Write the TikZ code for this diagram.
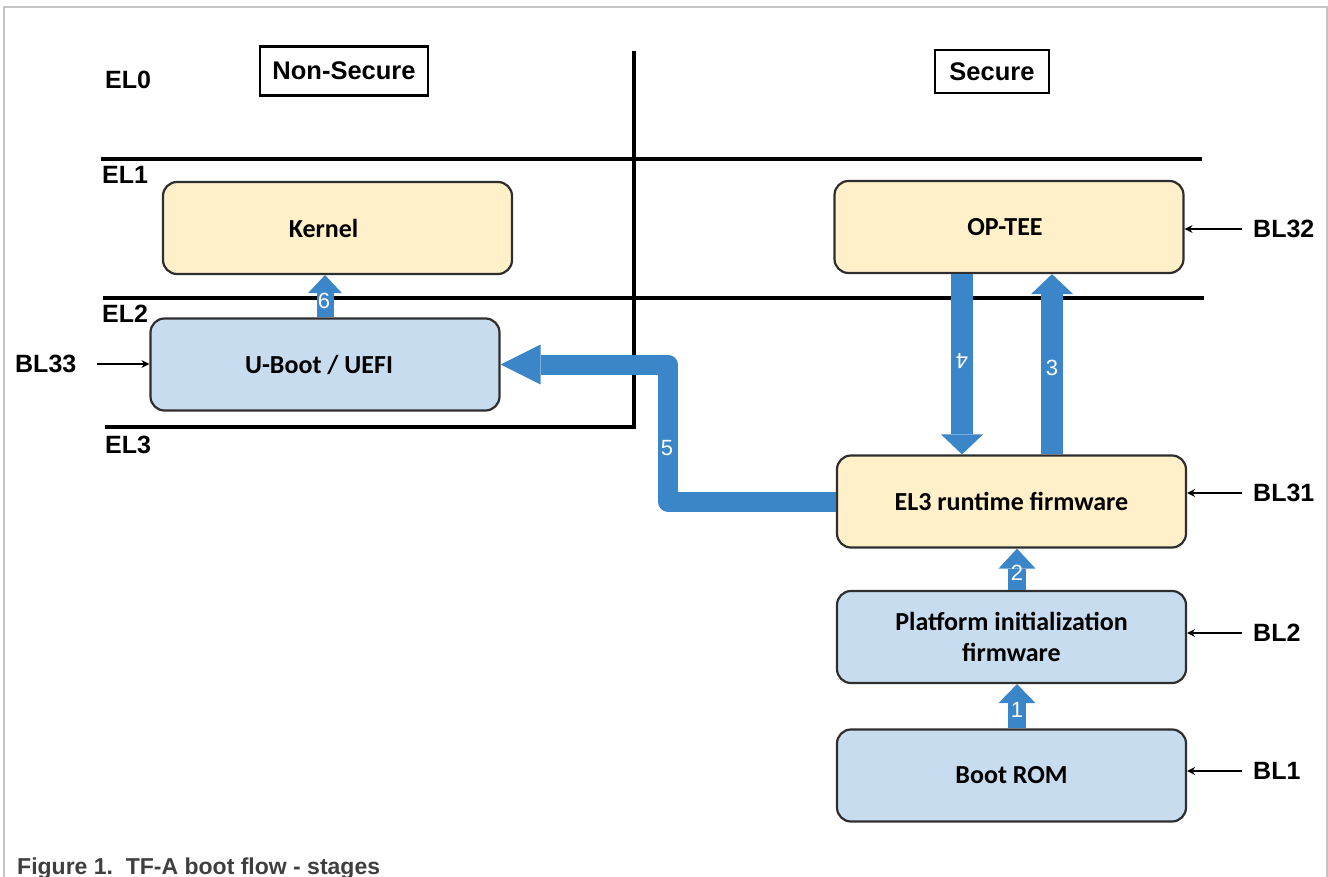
\documentclass[tikz,border=0pt]{standalone}
\usepackage{fontspec}
\setmainfont{Liberation Sans}
\newfontfamily\calibri{Carlito}
\usetikzlibrary{arrows.meta}
\definecolor{framegray}{HTML}{C4C4C4}
\definecolor{boxyellow}{HTML}{FFF0C9}
\definecolor{boxblue}{HTML}{C7DCEF}
\definecolor{boxborder}{HTML}{2E2E2E}
\definecolor{arrowblue}{HTML}{3A86C8}
\definecolor{captiongray}{HTML}{3F3F3F}
\tikzset{
  elline/.style={line width=3.2pt, black},
  fbox/.style={draw=boxborder, line width=2.2pt, rounded corners=14pt, minimum width=349pt, minimum height=92pt, inner sep=0pt, align=center, font=\calibri\bfseries\fontsize{26}{31}\selectfont},
  ybox/.style={fbox, fill=boxyellow},
  bbox/.style={fbox, fill=boxblue},
  lbl/.style={inner sep=0pt, anchor=west, font=\bfseries\fontsize{25}{30}\selectfont},
  worldbox/.style={draw=black, line width=2.7pt, inner sep=0pt, font=\bfseries\fontsize{25.5}{30}\selectfont},
  smallarrow/.style={draw=black, line width=2pt, -{Stealth[length=8pt,width=8pt,line width=0pt]}},
  bigarrow/.style={draw=arrowblue, line width=22pt, line join=round},
  num/.style={text=white, inner sep=0pt, font=\fontsize{22}{26}\selectfont}
}
\begin{document}
\begin{tikzpicture}[x=1pt,y=-1pt]
\useasboundingbox (0,0) rectangle (1328,877);
% outer frame
\draw[framegray, line width=1.3pt] (4,877) -- (4,7) -- (1327,7) -- (1327,877);
% exception level lines
\draw[elline] (101,159) -- (1202,159);
\draw[elline] (103,298) -- (1204,298);
\draw[elline] (105,427) -- (634,427) -- (634,51);
% level labels
\node[lbl] (el0) at (105,80) {EL0};
\node[lbl] (el1) at (102,175) {EL1};
\node[lbl] (el2) at (102,314) {EL2};
\node[lbl] (el3l) at (105,445) {EL3};
% world labels
\node[worldbox, minimum width=168pt, minimum height=49pt] (ns) at (344,71) {Non-Secure};
\node[worldbox, minimum width=114pt, minimum height=43pt] (sec) at (992,71.5) {Secure};
% boxes
\node[ybox] (kernel) at (337.5,228) {Kernel\hspace*{28pt}};
\node[bbox] (uboot) at (325,364.5) {U-Boot / UEFI\hspace*{12pt}};
\node[ybox] (optee) at (1009,227) {OP-TEE\hspace*{8pt}};
\node[ybox] (el3) at (1011.5,501.5) {EL3 runtime firmware};
\node[bbox] (plat) at (1011.5,637) {Platform initialization\\firmware};
\node[bbox] (rom) at (1011.5,775.5) {Boot ROM};
% BL labels
\node[lbl] (bl33) at (15,364) {BL33};
\node[lbl] (bl32) at (1253,229) {BL32};
\node[lbl] (bl31) at (1253,493) {BL31};
\node[lbl] (bl2) at (1253,633) {BL2};
\node[lbl] (bl1) at (1253,771) {BL1};
% small arrows
\draw[smallarrow] ([xshift=20pt]bl33.east) -- (bl33.east -| uboot.west);
\draw[smallarrow] ([xshift=-11pt]bl32.west) -- (bl32.west -| optee.east);
\draw[smallarrow] ([xshift=-11pt]bl31.west) -- (bl31.west -| el3.east);
\draw[smallarrow] ([xshift=-11pt]bl2.west) -- (bl2.west -| plat.east);
\draw[smallarrow] ([xshift=-11pt]bl1.west) -- (bl1.west -| rom.east);
% blue flow arrows
\coordinate (x4) at (962,0);
\coordinate (x3) at (1052,0);
\coordinate (x5) at (668,0);
\coordinate (x21) at (1017,0);
\draw[bigarrow, line width=17pt, -{Triangle[width=34pt,length=18pt,line width=0pt]}] (uboot.north) -- (uboot.north |- kernel.south);
\draw[bigarrow, -{Triangle[width=42pt,length=20pt,line width=0pt]}] (x4 |- optee.south) -- (x4 |- el3.north);
\draw[bigarrow, -{Triangle[width=42pt,length=20pt,line width=0pt]}] (x3 |- el3.north) -- (x3 |- optee.south);
\draw[bigarrow, line width=20pt, -{Triangle[width=40pt,length=40pt,line width=0pt]}] (el3.west) -- (x5 |- el3.west) -- (x5 |- uboot.east) -- (uboot.east);
\draw[bigarrow, line width=18pt, -{Triangle[width=37pt,length=20pt,line width=0pt]}] (x21 |- plat.north) -- (x21 |- el3.south);
\draw[bigarrow, line width=18pt, -{Triangle[width=37pt,length=19pt,line width=0pt]}] (x21 |- rom.north) -- (x21 |- plat.south);
% step numbers
\node[num] (n6) at (324,301) {6};
\node[num, rotate=180] (n4) at (962,361) {4};
\node[num] (n3) at (1052,368) {3};
\node[num] (n5) at (667,448) {5};
\node[num] (n2) at (1017,573) {2};
\node[num] (n1) at (1017,710) {1};
% caption
\node[inner sep=0pt, anchor=base west, text=captiongray, font=\bfseries\fontsize{23}{27}\selectfont] (cap) at (17,874) {Figure 1.\ \ TF-A boot flow - stages};
\end{tikzpicture}
\end{document}
